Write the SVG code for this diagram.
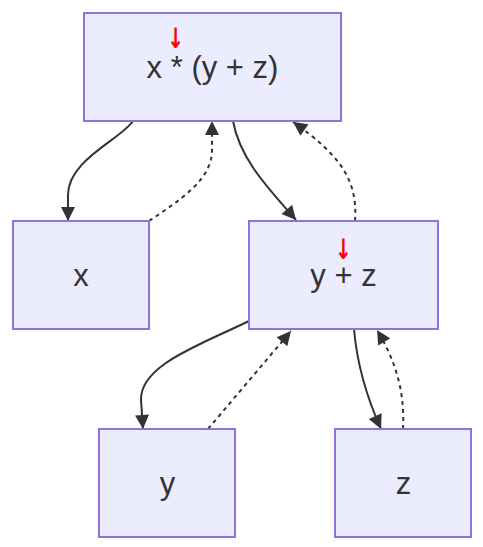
<svg xmlns="http://www.w3.org/2000/svg" width="483" height="547" viewBox="0 0 483 547">
<defs>
<marker id="arr" viewBox="0 0 10 10" refX="10" refY="5" markerWidth="15" markerHeight="14" markerUnits="userSpaceOnUse" orient="auto">
<path d="M0,0 L10,5 L0,10 z" fill="#333333"/>
</marker>
<style>
.node rect{fill:#ECECFF;stroke:#9370DB;stroke-width:2}
.node text{font-family:"Liberation Sans",Arial,sans-serif;font-size:31px;fill:#333333;text-anchor:middle}
.node text.mark{font-family:"DejaVu Sans",sans-serif;font-size:20px;font-weight:bold;fill:#FF0000}
.edge{fill:none;stroke:#333333;stroke-width:2;marker-end:url(#arr)}
.dotted{stroke-dasharray:4 4}
</style>
</defs>
<rect width="483" height="547" fill="#FFFFFF"/>
<g id="connectors">
<path class="edge" d="M133,121 C120,140 68,160 68,195 L68,221"/>
<path class="edge dotted" d="M149,221 C180,200 212,180 212,150 L212,121"/>
<path class="edge" d="M233,121 C240,160 270,190 296,220"/>
<path class="edge dotted" d="M355,221 C358,180 340,155 293,122"/>
<path class="edge" d="M249,321 C200,345 140,365 141,400 L143,429"/>
<path class="edge dotted" d="M208,429 L291,331"/>
<path class="edge" d="M354,329 C357,365 368,400 381,429"/>
<path class="edge dotted" d="M403,429 C405,390 395,360 377,330"/>
</g>
<g id="node-root" class="node">
<rect x="84" y="13" width="257" height="108"/>
<text x="212.5" y="78">x * (y + z)</text>
<text class="mark" x="0" y="0" transform="translate(175.5,47.5) scale(1,1.4)">↓</text>
</g>
<g id="node-x" class="node">
<rect x="13" y="221" width="136" height="108"/>
<text x="81" y="286">x</text>
</g>
<g id="node-yz" class="node">
<rect x="249" y="221" width="189" height="108"/>
<text x="343.5" y="286">y + z</text>
<text class="mark" x="0" y="0" transform="translate(343.3,258.5) scale(1,1.4)">↓</text>
</g>
<g id="node-y" class="node">
<rect x="99" y="429" width="136" height="108"/>
<text x="167.5" y="494">y</text>
</g>
<g id="node-z" class="node">
<rect x="335" y="429" width="136" height="108"/>
<text x="403.5" y="494">z</text>
</g>
</svg>
